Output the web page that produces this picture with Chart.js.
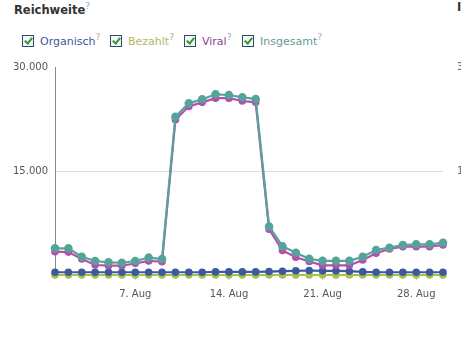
<!DOCTYPE html>
<html lang="de">
<head>
  <meta charset="UTF-8">
  <title>Reichweite</title>
  <script src="https://cdn.jsdelivr.net/npm/chart.js"></script>
  <style>
    html, body {
      margin: 0;
      padding: 0;
      background: #fff;
      width: 461px;
      height: 337px;
      overflow: hidden;
      font-family: 'DejaVu Sans', sans-serif;
    }
    .wrap {
      position: relative;
      width: 461px;
      height: 337px;
    }
    .title {
      position: absolute;
      left: 14px;
      top: 0px;
      font-size: 11.5px;
      font-weight: bold;
      color: #333;
    }
    .title sup, .item sup {
      color: #aaa;
      font-weight: normal;
      font-size: 9.5px;
    }
    .title-right {
      position: absolute;
      left: 457px;
      top: 0px;
      font-size: 11.5px;
      font-weight: bold;
      color: #333;
    }
    .item {
      position: absolute;
      top: 30px;
      font-size: 11px;
      line-height: 14px;
      white-space: nowrap;
    }
    .box {
      display: inline-block;
      width: 10px;
      height: 10px;
      border: 1px solid #2f4a63;
      background: #f4f6f8;
      vertical-align: -2px;
      margin-right: 6px;
      position: relative;
    }
    .box::after {
      content: '';
      position: absolute;
      left: 3px;
      top: 0px;
      width: 3px;
      height: 6px;
      border: solid #2f9a2f;
      border-width: 0 2px 2px 0;
      transform: rotate(40deg);
    }
    .right-tick {
      position: absolute;
      left: 457px;
      font-size: 10px;
      color: #666;
    }
    #chart {
      position: absolute;
      left: 0;
      top: 0;
    }
  </style>
</head>
<body>
  <div class="wrap">
    <div class="title">Reichweite<sup>?</sup></div>
    <div class="title-right">I</div>
    <div class="item" style="left:22px; color:#3b5998"><span class="box"></span>Organisch<sup>?</sup></div>
    <div class="item" style="left:110px; color:#b3b75f"><span class="box"></span>Bezahlt<sup>?</sup></div>
    <div class="item" style="left:184px; color:#8e3f8e"><span class="box"></span>Viral<sup>?</sup></div>
    <div class="item" style="left:242px; color:#5f9b94"><span class="box"></span>Insgesamt<sup>?</sup></div>
    <div class="right-tick" style="top:61px">3</div>
    <div class="right-tick" style="top:165px">1</div>
    <canvas id="chart" width="461" height="337"></canvas>
  </div>

  <script>
    // Tage im August
    const days = [];
    for (let d = 1; d <= 30; d++) days.push(d + '. Aug');

    const organisch = [400, 400, 400, 400, 400, 400, 400, 400, 400, 400,
                       400, 400, 450, 450, 450, 450, 500, 550, 600, 650,
                       600, 600, 550, 450, 400, 400, 400, 400, 400, 400];
    const bezahlt = [0, 0, 0, 0, 0, 0, 0, 0, 0, 0,
                     0, 0, 0, 0, 0, 0, 0, 0, 0, 0,
                     0, 0, 0, 0, 0, 0, 0, 0, 0, 0];
    const viral = [3360, 3300, 2310, 1440, 1340, 1340, 1680, 2020, 1920, 22400,
                   24300, 24900, 25500, 25500, 25100, 24900, 6600, 3550, 2550, 1950,
                   1400, 1400, 1400, 2160, 3130, 3750, 4080, 4080, 4080, 4330];
    const insgesamt = [3850, 3850, 2640, 2020, 1830, 1770, 2020, 2500, 2310, 22830,
                       24760, 25340, 26060, 25960, 25630, 25380, 7000, 4150, 3200, 2330,
                       2040, 2040, 2040, 2640, 3600, 3940, 4330, 4420, 4420, 4660];

    const yTicks = [0, 15000, 30000];
    const shownDays = ['7. Aug', '14. Aug', '21. Aug', '28. Aug'];

    function fmt(v) {
      if (v === 0) return '';
      return v.toLocaleString('de-DE');
    }

    function series(label, data, color, order, radius) {
      return {
        label: label,
        data: data,
        borderColor: color,
        backgroundColor: color,
        pointBackgroundColor: color,
        pointBorderColor: color,
        pointRadius: radius,
        borderWidth: 2.2,
        tension: 0,
        order: order,
        clip: false
      };
    }

    new Chart(document.getElementById('chart'), {
      type: 'line',
      data: {
        labels: days,
        datasets: [
          series('Organisch', organisch, '#3b5aa0', 2, 2.7),
          series('Bezahlt', bezahlt, '#a9c14a', 3, 2.7),
          series('Viral', viral, '#b44fae', 1, 2.7),
          series('Insgesamt', insgesamt, '#55a39a', 0, 3.2)
        ]
      },
      options: {
        responsive: false,
        animation: false,
        layout: { padding: { top: 67, right: 18, bottom: 22, left: 0 } },
        plugins: {
          legend: { display: false },
          tooltip: { enabled: false }
        },
        scales: {
          x: {
            offset: false,
            afterFit: s => { s.height = 40; },
            border: { display: false },
            grid: {
              drawOnChartArea: false,
              tickLength: 5,
              color: ctx => shownDays.includes(days[ctx.index]) ? '#ccc' : 'rgba(0,0,0,0)'
            },
            ticks: {
              autoSkip: false,
              maxRotation: 0,
              padding: 8,
              color: '#555',
              font: { family: 'DejaVu Sans', size: 10 },
              callback: (v, i) => shownDays.includes(days[i]) ? days[i] : ''
            }
          },
          y: {
            min: 0,
            max: 30000,
            afterFit: s => { s.width = 55; },
            afterBuildTicks: s => { s.ticks = yTicks.map(v => ({ value: v })); },
            border: { display: true, color: '#888', width: 1 },
            grid: {
              drawTicks: false,
              color: ctx => ctx.tick && ctx.tick.value === 15000 ? '#dddddd' : 'rgba(0,0,0,0)'
            },
            ticks: {
              padding: 7,
              color: '#555',
              font: { family: 'DejaVu Sans', size: 10 },
              callback: v => fmt(v)
            }
          }
        }
      }
    });
  </script>
</body>
</html>
